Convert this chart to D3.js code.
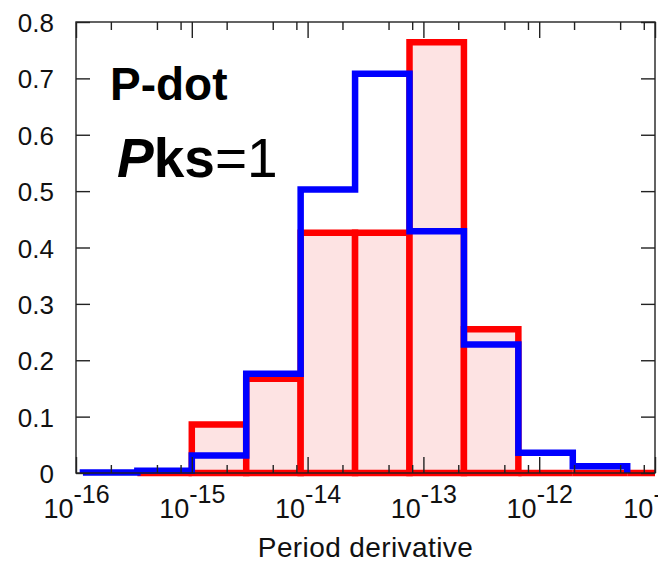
<!DOCTYPE html>
<html>
<head>
<meta charset="utf-8">
<script src="https://cdn.jsdelivr.net/npm/d3@7"></script>
<style>
  html, body { margin: 0; padding: 0; background: #fff; }
  svg { display: block; font-family: "Liberation Sans", Arial, sans-serif; }
</style>
</head>
<body>
<svg id="chart" width="658" height="568"></svg>
<script>
// ---- data ----
const binEdgeExponents = [-15.94, -15.47, -15.00, -14.53, -14.06, -13.59, -13.12, -12.65, -12.18, -11.71, -11.24, -10.77];
const redValues  = [null, 0, 0.086, 0.167, 0.426, 0.426, 0.764, 0.255, 0, 0, 0];
const blueValues = [0.001, 0.004, 0.031, 0.176, 0.503, 0.708, 0.429, 0.228, 0.036, 0.012, null];
const xTickExponents = [-16, -15, -14, -13, -12, -11];
const xTickLabels = ["-16", "-15", "-14", "-13", "-12", "-11"];
const xMinorMultipliers = [2, 5, 8];
const yTicks = [0, 0.1, 0.2, 0.3, 0.4, 0.5, 0.6, 0.7, 0.8];
const yTickLabels = ["0", "0.1", "0.2", "0.3", "0.4", "0.5", "0.6", "0.7", "0.8"];
const xTitle = "Period derivative";
const titleLine1 = "P-dot";

// ---- layout ----
const L = 76, R = 655, T = 22, B = 473;
const svg = d3.select("#chart");
const x = d3.scaleLog().domain([1e-16, 1e-11]).range([L, R]);
const y = d3.scaleLinear().domain([0, 0.8]).range([B, T]);

const majorVals = xTickExponents.map(e => Math.pow(10, e));
const minorVals = [];
xTickExponents.slice(0, -1).forEach(e => xMinorMultipliers.forEach(m => minorVals.push(m * Math.pow(10, e))));

svg.append("defs").append("clipPath").attr("id", "clip")
  .append("rect").attr("x", L).attr("y", 0).attr("width", R - L).attr("height", B + 6);

const plot = svg.append("g").attr("clip-path", "url(#clip)");

// red bars
const bins = redValues.map((v, i) => ({
  x0: x(Math.pow(10, binEdgeExponents[i])),
  x1: x(Math.pow(10, binEdgeExponents[i + 1])),
  red: v, blue: blueValues[i]
}));

plot.selectAll("path.red").data(bins.filter(d => d.red !== null)).join("path")
  .attr("class", "red")
  .attr("d", d => `M${d.x0},${y(0)}V${y(d.red)}H${d.x1}V${y(0)}Z`)
  .attr("fill", "#fde3e3")
  .attr("stroke", "#ff0000")
  .attr("stroke-width", 6.5)
  .attr("stroke-linejoin", "miter");

// frame
svg.append("rect").attr("x", L).attr("y", T).attr("width", R - L).attr("height", B - T)
  .attr("fill", "none").attr("stroke", "#222").attr("stroke-width", 1.4);

// axes (ticks inward)
function styleAxis(g) {
  g.select(".domain").remove();
  g.selectAll(".tick line").attr("stroke", "#222").attr("stroke-width", 1.4);
}
const bottomMajor = svg.append("g").attr("transform", `translate(0,${B})`)
  .call(d3.axisBottom(x).tickValues(majorVals).tickSize(-16).tickFormat((d, i) => xTickLabels[i]));
styleAxis(bottomMajor);
svg.append("g").attr("transform", `translate(0,${B})`)
  .call(d3.axisBottom(x).tickValues(minorVals).tickSize(-8).tickFormat(""))
  .call(styleAxis);
svg.append("g").attr("transform", `translate(0,${T})`)
  .call(d3.axisTop(x).tickValues(majorVals).tickSize(-16).tickFormat(""))
  .call(styleAxis);
svg.append("g").attr("transform", `translate(0,${T})`)
  .call(d3.axisTop(x).tickValues(minorVals).tickSize(-8).tickFormat(""))
  .call(styleAxis);
const leftAx = svg.append("g").attr("transform", `translate(${L},0)`)
  .call(d3.axisLeft(y).tickValues(yTicks).tickSize(-14).tickFormat((d, i) => yTickLabels[i]));
styleAxis(leftAx);
svg.append("g").attr("transform", `translate(${R},0)`)
  .call(d3.axisRight(y).tickValues(yTicks).tickSize(-14).tickFormat(""))
  .call(styleAxis);

// tick label styling
leftAx.selectAll(".tick text")
  .attr("x", -22).attr("dy", null).attr("y", 9.5)
  .attr("font-size", 26).attr("fill", "#111")
  .attr("font-family", "'Liberation Sans', Arial, sans-serif");

bottomMajor.selectAll(".tick text").each(function(d, i) {
  const t = d3.select(this);
  const sup = xTickLabels[i];
  t.text(null).attr("y", 45).attr("dy", null)
    .attr("font-size", 27).attr("fill", "#111")
    .attr("font-family", "'Liberation Sans', Arial, sans-serif")
    .attr("text-anchor", "middle");
  t.append("tspan").text("10");
  t.append("tspan").attr("dy", -15).attr("font-size", 25).text(sup);
});

// blue step outline
const blueBins = bins.filter(d => d.blue !== null);
let pd = `M${blueBins[0].x0},${y(0)}`;
blueBins.forEach(d => { pd += `V${y(d.blue)}H${d.x1}`; });
pd += `V${y(0)}`;
plot.append("path").attr("d", pd)
  .attr("fill", "none").attr("stroke", "#0000ff").attr("stroke-width", 6.5)
  .attr("stroke-linejoin", "miter").attr("stroke-linecap", "butt");

// axis title
svg.append("text").attr("x", (L + R) / 2).attr("y", 557)
  .attr("text-anchor", "middle").attr("font-size", 28).attr("letter-spacing", 0.4).attr("fill", "#111")
  .text(xTitle);

// annotations
svg.append("text").attr("x", 110).attr("y", 100)
  .attr("font-size", 46).attr("font-weight", "bold").attr("fill", "#000")
  .text(titleLine1);
const t2 = svg.append("text").attr("x", 117).attr("y", 177).attr("font-size", 55).attr("fill", "#000");
t2.append("tspan").attr("font-weight", "bold").attr("font-style", "italic").text("P");
t2.append("tspan").attr("font-weight", "bold").text("ks");
t2.append("tspan").text("=1");
</script>
</body>
</html>
